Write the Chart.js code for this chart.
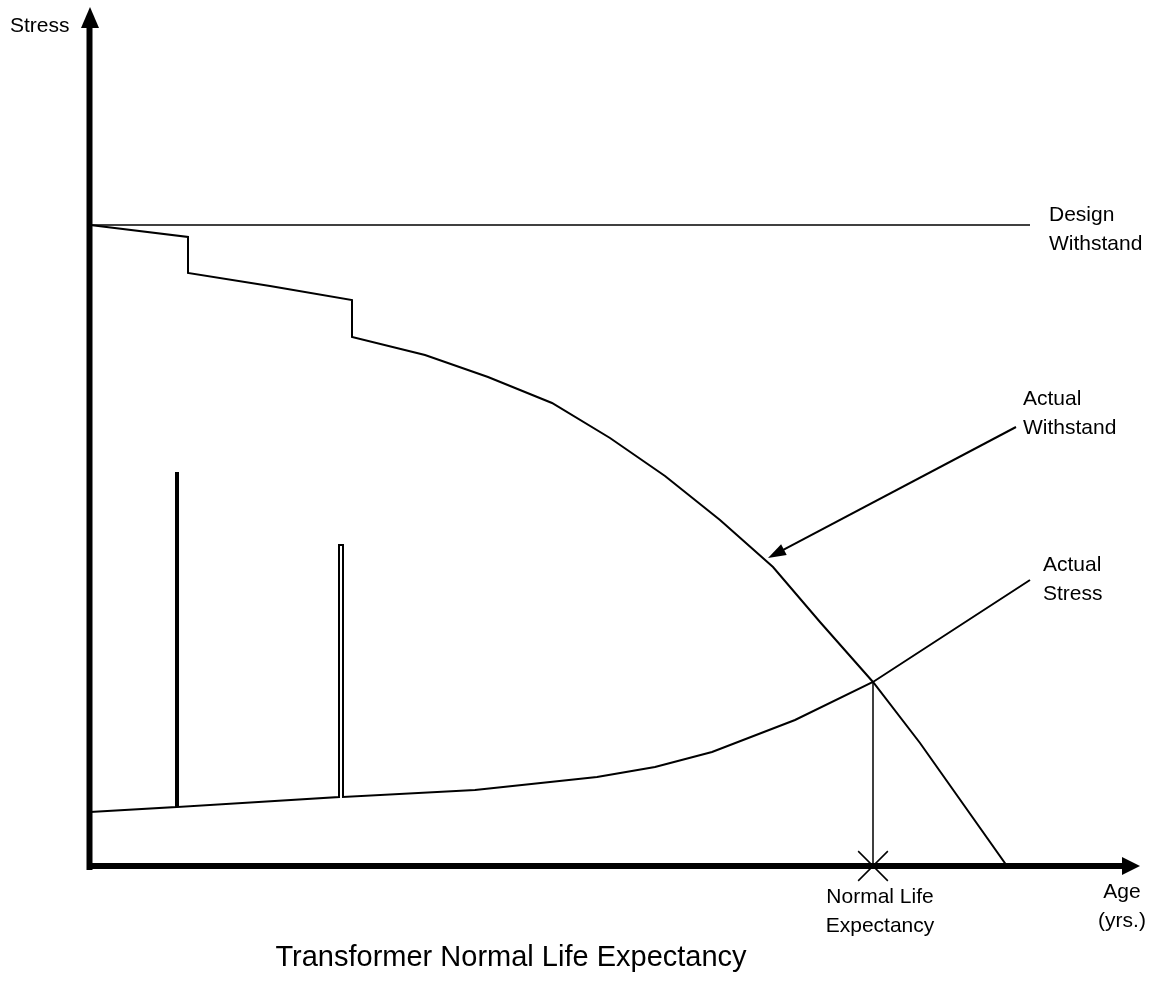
<!DOCTYPE html>
<html>
<head>
<meta charset="utf-8">
<title>Transformer Normal Life Expectancy</title>
<script src="https://cdn.jsdelivr.net/npm/chart.js@4.4.0/dist/chart.umd.min.js"></script>
<style>
  html, body { margin: 0; padding: 0; background: #fff; }
  #wrap { width: 1151px; height: 992px; position: relative; }
</style>
</head>
<body>
<div id="wrap"><canvas id="lifeChart"></canvas></div>
<script>
// --- DATA (age / stress in picture units, origin at the axes crossing) ---
const designAge    = [0, 940];
const designStress = [641, 641];

const withstandAge    = [0, 98, 98, 180, 262, 262, 335, 398, 462, 520, 575, 630, 683, 730, 783, 830, 917];
const withstandStress = [641, 629, 593, 580, 566, 529, 511, 489, 463, 428, 390, 346, 299, 244, 184, 123, 0];

// actual stress, with two short over-stress spikes
const stressAge   = [0, 86, 86, 88, 88, 249, 249, 253, 253, 385, 507, 565, 622, 705, 783, 940];
const stressLevel = [54, 59, 393, 393, 59, 69, 321, 321, 69, 76, 89, 99, 114, 146, 184, 286];

const lifeAge    = [783, 783];
const lifeStress = [184, 0];

// pointer from the "Actual Withstand" label to its curve
const pointerAge    = [926, 678];
const pointerStress = [439, 308];

const AGE_MAX = 1050;
const STRESS_MAX = 858;

const toPoints = (xs, ys) => xs.map((x, i) => ({ x: x, y: ys[i] }));

// --- TEXTOS ---
const FONT = '"Liberation Sans", Arial, sans-serif';
const labels = [
    { text: ['Stress'], px: 10, py: 26, align: 'left', size: 21 },
    { text: ['Design', 'Withstand'], px: 1049, py: 215, align: 'left', size: 21 },
    { text: ['Actual', 'Withstand'], px: 1023, py: 399, align: 'left', size: 21 },
    { text: ['Actual', 'Stress'], px: 1043, py: 565, align: 'left', size: 21 },
    { text: ['Normal Life', 'Expectancy'], px: 880, py: 897, align: 'center', size: 21 },
    { text: ['Age', '(yrs.)'], px: 1122, py: 892, align: 'center', size: 21 },
    { text: ['Transformer Normal Life Expectancy'], px: 511, py: 958, align: 'center', size: 29 }
];

// axes with arrow heads + pointer + labels
const diagramPlugin = {
    id: 'diagram',
    afterDatasetsDraw(chart) {
        const c = chart.ctx;
        const xs = chart.scales.x, ys = chart.scales.y;
        const x0 = xs.getPixelForValue(0), y0 = ys.getPixelForValue(0);
        const xEnd = xs.getPixelForValue(AGE_MAX), yEnd = ys.getPixelForValue(STRESS_MAX);

        c.save();
        c.fillStyle = '#000';
        c.strokeStyle = '#000';

        // eixo Y
        c.lineWidth = 6;
        c.beginPath();
        c.moveTo(x0 - 0.5, y0 + 4);
        c.lineTo(x0 - 0.5, yEnd + 19);
        c.stroke();
        c.beginPath();
        c.moveTo(x0, yEnd - 1);
        c.lineTo(x0 - 9, yEnd + 20);
        c.lineTo(x0 + 9, yEnd + 20);
        c.closePath();
        c.fill();

        // eixo X
        c.beginPath();
        c.moveTo(x0 - 3, y0);
        c.lineTo(xEnd - 17, y0);
        c.stroke();
        c.beginPath();
        c.moveTo(xEnd, y0);
        c.lineTo(xEnd - 18, y0 - 9);
        c.lineTo(xEnd - 18, y0 + 9);
        c.closePath();
        c.fill();

        // pointer arrow
        const sx = xs.getPixelForValue(pointerAge[0]), sy = ys.getPixelForValue(pointerStress[0]);
        const tx = xs.getPixelForValue(pointerAge[1]), ty = ys.getPixelForValue(pointerStress[1]);
        const ang = Math.atan2(ty - sy, tx - sx);
        c.lineWidth = 2;
        c.beginPath();
        c.moveTo(sx, sy);
        c.lineTo(tx - 14 * Math.cos(ang), ty - 14 * Math.sin(ang));
        c.stroke();
        c.beginPath();
        c.moveTo(tx, ty);
        c.lineTo(tx - 18 * Math.cos(ang) + 6 * Math.sin(ang), ty - 18 * Math.sin(ang) - 6 * Math.cos(ang));
        c.lineTo(tx - 18 * Math.cos(ang) - 6 * Math.sin(ang), ty - 18 * Math.sin(ang) + 6 * Math.cos(ang));
        c.closePath();
        c.fill();

        // textos
        c.textBaseline = 'middle';
        labels.forEach(l => {
            c.font = l.size + 'px ' + FONT;
            c.textAlign = l.align;
            l.text.forEach((t, i) => c.fillText(t, l.px, l.py + i * 29));
        });
        c.restore();
    }
};

const line = (data, width) => ({
    data: data,
    showLine: true,
    borderColor: '#000',
    borderWidth: width,
    pointRadius: 0,
    tension: 0,
    fill: false
});

const lifeSet = line(toPoints(lifeAge, lifeStress), 1.5);
lifeSet.pointStyle = 'crossRot';
lifeSet.pointRadius = ctx => ctx.dataIndex === 1 ? 21 : 0;
lifeSet.pointBorderColor = '#000';
lifeSet.pointBorderWidth = 1.5;
lifeSet.clip = false;

new Chart(document.getElementById('lifeChart'), {
    type: 'scatter',
    data: {
        datasets: [
            line(toPoints(designAge, designStress), 1.5),
            line(toPoints(withstandAge, withstandStress), 2),
            line(toPoints(stressAge, stressLevel), 2),
            lifeSet
        ]
    },
    options: {
        responsive: true,
        maintainAspectRatio: false,
        animation: false,
        layout: { autoPadding: false, padding: { left: 90, right: 11, top: 8, bottom: 126 } },
        scales: {
            x: { type: 'linear', min: 0, max: AGE_MAX, display: false },
            y: { type: 'linear', min: 0, max: STRESS_MAX, display: false }
        },
        plugins: {
            legend: { display: false },
            tooltip: { enabled: false }
        }
    },
    plugins: [diagramPlugin]
});
</script>
</body>
</html>
